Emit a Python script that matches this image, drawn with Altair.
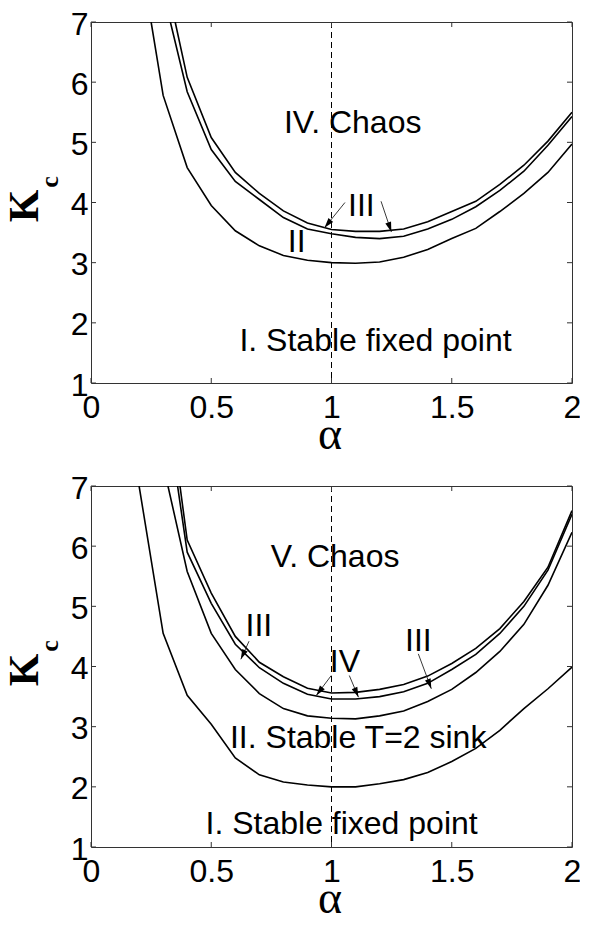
import math
import altair as alt
import pandas as pd

W = 481
H = 361

# ---------------- data ----------------
# top panel
topA_x = [0.25, 0.3, 0.4, 0.5, 0.6, 0.7, 0.8, 0.9, 1.0, 1.1, 1.2, 1.3, 1.4, 1.5, 1.6, 1.7, 1.8, 1.9, 2.0]
topA_y = [7.0, 5.78, 4.58, 3.95, 3.53, 3.28, 3.12, 3.04, 3.0, 2.99, 3.01, 3.09, 3.22, 3.4, 3.57, 3.85, 4.15, 4.5, 4.97]
topB_x = [0.33, 0.4, 0.5, 0.6, 0.7, 0.8, 0.9, 1.0, 1.1, 1.2, 1.3, 1.4, 1.5, 1.6, 1.7, 1.8, 1.9, 2.0]
topB_y = [7.0, 5.84, 4.88, 4.35, 4.05, 3.75, 3.56, 3.48, 3.42, 3.40, 3.44, 3.56, 3.72, 3.93, 4.2, 4.52, 4.95, 5.43]
topC_x = [0.35, 0.4, 0.5, 0.6, 0.7, 0.8, 0.9, 1.0, 1.1, 1.2, 1.3, 1.4, 1.5, 1.6, 1.7, 1.8, 1.9, 2.0]
topC_y = [7.0, 6.08, 5.08, 4.5, 4.15, 3.86, 3.66, 3.55, 3.52, 3.52, 3.56, 3.68, 3.85, 4.02, 4.3, 4.62, 5.02, 5.5]

top_text = ["IV. Chaos", "III", "II", "I. Stable fixed point"]
top_text_x = [1.088, 1.124, 0.855, 1.183]
top_text_y = [5.32, 3.95, 3.345, 1.70]
top_arrow_x1 = [1.056, 1.206]
top_arrow_y1 = [4.0, 4.02]
top_arrow_x2 = [0.971, 1.249]
top_arrow_y2 = [3.58, 3.51]

# bottom panel
botD_x = [0.2, 0.3, 0.4, 0.5, 0.6, 0.7, 0.8, 0.9, 1.0, 1.1, 1.2, 1.3, 1.4, 1.5, 1.6, 1.7, 1.8, 1.9, 2.0]
botD_y = [7.0, 4.55, 3.52, 3.04, 2.48, 2.2, 2.08, 2.03, 2.0, 2.0, 2.05, 2.12, 2.24, 2.42, 2.64, 2.94, 3.3, 3.63, 3.99]
botE_x = [0.32, 0.4, 0.5, 0.6, 0.7, 0.8, 0.9, 1.0, 1.1, 1.2, 1.3, 1.4, 1.5, 1.6, 1.7, 1.8, 1.9, 2.0]
botE_y = [7.0, 5.58, 4.55, 3.95, 3.55, 3.3, 3.18, 3.14, 3.13, 3.18, 3.26, 3.42, 3.62, 3.9, 4.25, 4.7, 5.35, 6.23]
botF_x = [0.36, 0.4, 0.5, 0.6, 0.7, 0.8, 0.9, 1.0, 1.1, 1.2, 1.3, 1.4, 1.5, 1.6, 1.7, 1.8, 1.9, 2.0]
botF_y = [7.0, 5.9, 5.05, 4.37, 3.98, 3.72, 3.54, 3.46, 3.46, 3.5, 3.58, 3.72, 3.95, 4.2, 4.55, 5.0, 5.6, 6.53]
botG_x = [0.37, 0.4, 0.5, 0.6, 0.7, 0.8, 0.9, 1.0, 1.1, 1.2, 1.3, 1.4, 1.5, 1.6, 1.7, 1.8, 1.9, 2.0]
botG_y = [7.0, 6.1, 5.22, 4.5, 4.07, 3.83, 3.64, 3.56, 3.57, 3.62, 3.7, 3.84, 4.05, 4.3, 4.63, 5.08, 5.65, 6.59]

bot_text = ["V. Chaos", "III", "IV", "III", "II. Stable T=2 sink", "I. Stable fixed point"]
bot_text_x = [1.015, 0.698, 1.056, 1.361, 1.111, 1.042]
bot_text_y = [5.82, 4.67, 4.07, 4.42, 2.81, 1.38]
bot_arrow_x1 = [0.657, 0.999, 1.074, 1.361]
bot_arrow_y1 = [4.42, 3.85, 3.85, 4.21]
bot_arrow_x2 = [0.623, 0.937, 1.112, 1.415]
bot_arrow_y2 = [4.12, 3.52, 3.49, 3.63]

x_ticks = [0, 0.5, 1, 1.5, 2]
y_ticks = [1, 2, 3, 4, 5, 6, 7]
divider_x = [1.0]

# ---------------- helpers ----------------
xs = alt.Scale(domain=[0, 2], nice=False, zero=False)
ys = alt.Scale(domain=[1, 7], nice=False, zero=False)
xaxis = alt.Axis(values=x_ticks, format="~g", title=None, grid=False, ticks=False,
                 domain=False, labelFont="Liberation Sans", labelFontSize=32,
                 labelColor="black", labelPadding=9, labelFlush=False, labelOverlap=False)
yaxis = alt.Axis(values=y_ticks, format="~g", title=None, grid=False, ticks=False,
                 domain=False, labelFont="Liberation Sans", labelFontSize=32,
                 labelColor="black", labelPadding=3, labelOffset=2, labelFlush=False,
                 labelOverlap=False)

HEAD = "M0,0L0.6,2L-0.6,2Z"


def X(f):
    return alt.X(f, type="quantitative", scale=xs, axis=xaxis)


def Y(f):
    return alt.Y(f, type="quantitative", scale=ys, axis=yaxis)


def panel(curves, tx, tX, tY, ax1, ay1, ax2, ay2):
    rows = []
    for name, (cx, cy) in curves.items():
        for i, (a, b) in enumerate(zip(cx, cy)):
            rows.append({"curve": name, "i": i, "x": a, "y": b})
    cdf = pd.DataFrame(rows)
    lines = alt.Chart(cdf).mark_line(color="black", strokeWidth=1.6, clip=True).encode(
        x=X("x"), y=Y("y"), detail="curve:N", order="i:Q")

    dash = alt.Chart(pd.DataFrame({"x": divider_x})).mark_rule(
        color="black", strokeWidth=1, strokeDash=[6, 4]).encode(x=X("x"))

    xt = pd.DataFrame({"x": x_ticks})
    yt = pd.DataFrame({"y": y_ticks})
    tick_style = dict(color="#333", strokeWidth=1)
    tb = alt.Chart(xt).mark_rule(**tick_style).encode(x=X("x"), y=alt.value(H), y2=alt.value(H - 5))
    tt = alt.Chart(xt).mark_rule(**tick_style).encode(x=X("x"), y=alt.value(0), y2=alt.value(5))
    tl = alt.Chart(yt).mark_rule(**tick_style).encode(y=Y("y"), x=alt.value(0), x2=alt.value(5))
    tr = alt.Chart(yt).mark_rule(**tick_style).encode(y=Y("y"), x=alt.value(W - 5), x2=alt.value(W))

    tdf = pd.DataFrame({"t": tx, "x": tX, "y": tY})
    texts = alt.Chart(tdf).mark_text(font="Liberation Sans", fontSize=32, color="black",
                                     align="center", baseline="middle").encode(
        x=X("x"), y=Y("y"), text="t:N")

    adf = pd.DataFrame({"x1": ax1, "y1": ay1, "x2": ax2, "y2": ay2})
    ang = []
    for a, b, c, d in zip(ax1, ay1, ax2, ay2):
        dx = (c - a) * W / 2.0
        dy = -(d - b) * H / 6.0
        ang.append(math.degrees(math.atan2(dx, -dy)) % 360)
    adf["angle"] = ang
    shafts = alt.Chart(adf).mark_rule(color="#222", strokeWidth=0.9).encode(
        x=X("x1"), y=Y("y1"), x2="x2:Q", y2="y2:Q")
    heads = alt.Chart(adf).mark_point(shape=HEAD, filled=True, color="black", size=100,
                                      opacity=1, strokeWidth=0).encode(
        x=X("x2"), y=Y("y2"), angle=alt.Angle("angle:Q", scale=None))

    kdf = pd.DataFrame({"t": ["K"]})
    ktitle = alt.Chart(kdf).mark_text(font="Liberation Serif", fontWeight="bold", fontSize=42,
                                      angle=270, align="center", baseline="middle",
                                      color="black").encode(
        text="t:N", x=alt.value(-66), y=alt.value(184))
    cdf2 = pd.DataFrame({"t": ["c"]})
    csub = alt.Chart(cdf2).mark_text(font="Liberation Serif", fontWeight="bold", fontSize=26,
                                     angle=270, align="center", baseline="middle",
                                     color="black").encode(
        text="t:N", x=alt.value(-41), y=alt.value(160))
    adf2 = pd.DataFrame({"t": ["α"]})
    alpha = alt.Chart(adf2).mark_text(font="Liberation Serif", fontSize=46, align="center",
                                      baseline="alphabetic", color="black").encode(
        text="t:N", x=alt.value(239), y=alt.value(H + 66))

    return alt.layer(lines, dash, tb, tt, tl, tr, shafts, heads, texts,
                     ktitle, csub, alpha).properties(width=W, height=H)


top = panel({"A": (topA_x, topA_y), "B": (topB_x, topB_y), "C": (topC_x, topC_y)},
            top_text, top_text_x, top_text_y,
            top_arrow_x1, top_arrow_y1, top_arrow_x2, top_arrow_y2)
bottom = panel({"D": (botD_x, botD_y), "E": (botE_x, botE_y), "F": (botF_x, botF_y),
                "G": (botG_x, botG_y)},
               bot_text, bot_text_x, bot_text_y,
               bot_arrow_x1, bot_arrow_y1, bot_arrow_x2, bot_arrow_y2)

chart = alt.vconcat(top, bottom, spacing=12).properties(
    padding={"left": -5, "top": -1, "right": -2, "bottom": -8},
    background="white",
).configure_view(stroke="#333", strokeWidth=1)

chart.save("out.html", embed_options={"renderer": "svg", "actions": False})
